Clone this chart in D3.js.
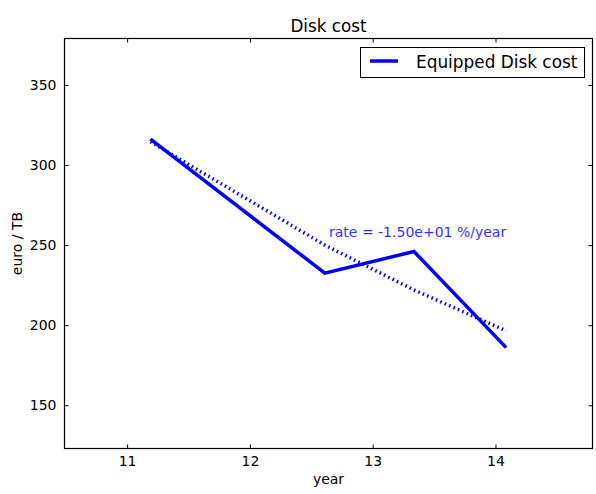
<!DOCTYPE html>
<html>
<head>
<meta charset="utf-8">
<script src="https://cdn.jsdelivr.net/npm/d3@7"></script>
<style>
  body { margin: 0; background: #fff; }
  text { font-family: "DejaVu Sans", sans-serif; fill: #000; }
</style>
</head>
<body>
<svg id="chart" width="596" height="494"></svg>
<script>
// data
var years = [11.19, 12.61, 13.336, 14.087];
var cost = [316.2, 232.5, 246.0, 186.0];
// fitted trend (dotted), values read at the same years
var fitCost = [314.5, 250.0, 222.0, 196.5];
var xTicks = [11, 12, 13, 14];
var yTicks = [150, 200, 250, 300, 350];
var rateLabel = "rate = -1.50e+01 %/year";
var seriesName = "Equipped Disk cost";

var svg = d3.select("#chart");
var pL = 64.5, pR = 592.5, pT = 38.5, pB = 448.5;

var x = d3.scaleLinear().domain([10.49, 14.79]).range([pL, pR]);
var y = d3.scaleLinear().domain([123, 379]).range([pB, pT]);

var line = d3.line()
  .x(function(d) { return x(d[0]); })
  .y(function(d) { return y(d[1]); });

var fmt = d3.format("d");

// axes with inward ticks on all sides
var axB = svg.append("g").attr("transform", "translate(0," + pB + ")")
  .call(d3.axisBottom(x).tickValues(xTicks).tickSizeInner(-4).tickSizeOuter(0).tickPadding(8).tickFormat(fmt));
var axT = svg.append("g").attr("transform", "translate(0," + pT + ")")
  .call(d3.axisTop(x).tickValues(xTicks).tickSizeInner(-4).tickSizeOuter(0).tickFormat(""));
var axL = svg.append("g").attr("transform", "translate(" + pL + ",0)")
  .call(d3.axisLeft(y).tickValues(yTicks).tickSizeInner(-4).tickSizeOuter(0).tickPadding(8).tickFormat(fmt));
var axR = svg.append("g").attr("transform", "translate(" + pR + ",0)")
  .call(d3.axisRight(y).tickValues(yTicks).tickSizeInner(-4).tickSizeOuter(0).tickFormat(""));

[axB, axT, axL, axR].forEach(function(a) {
  a.select(".domain").remove();
  a.selectAll(".tick line").attr("stroke", "#000").attr("stroke-width", 1);
  a.selectAll(".tick text").attr("font-size", "14px").attr("font-family", "DejaVu Sans").attr("fill", "#000");
});

svg.append("rect")
  .attr("x", pL).attr("y", pT)
  .attr("width", pR - pL).attr("height", pB - pT)
  .attr("fill", "none").attr("stroke", "#000").attr("stroke-width", 1.2);

// fit line
svg.append("path")
  .datum(years.map(function(v, i) { return [v, fitCost[i]]; }))
  .attr("d", line)
  .attr("fill", "none")
  .attr("stroke", "#0000ff")
  .attr("stroke-width", 3.5)
  .attr("stroke-dasharray", "1.6,3.2");

// data line
svg.append("path")
  .datum(years.map(function(v, i) { return [v, cost[i]]; }))
  .attr("d", line)
  .attr("fill", "none")
  .attr("stroke", "#0000ff")
  .attr("stroke-width", 3.5)
  .attr("stroke-linejoin", "miter");

svg.append("text")
  .attr("x", 329).attr("y", 237)
  .attr("font-size", "14px")
  .style("fill", "#3333ff")
  .text(rateLabel);

// title and labels
svg.append("text").attr("x", (pL + pR) / 2).attr("y", 32)
  .attr("text-anchor", "middle").attr("font-size", "16.8px").text("Disk cost");
svg.append("text").attr("x", (pL + pR) / 2).attr("y", 484)
  .attr("text-anchor", "middle").attr("font-size", "14px").text("year");
svg.append("text")
  .attr("transform", "translate(22," + ((pT + pB) / 2) + ") rotate(-90)")
  .attr("text-anchor", "middle").attr("font-size", "14px").text("euro / TB");

// legend
var lg = svg.append("g");
lg.append("rect").attr("x", 360.5).attr("y", 47.5).attr("width", 224).attr("height", 30)
  .attr("fill", "#fff").attr("stroke", "#000").attr("stroke-width", 1);
lg.append("line").attr("x1", 370).attr("x2", 398).attr("y1", 61).attr("y2", 61)
  .attr("stroke", "#0000ff").attr("stroke-width", 3.5);
lg.append("text").attr("x", 416).attr("y", 67.5).attr("font-size", "16.9px").text(seriesName);
</script>
</body>
</html>
